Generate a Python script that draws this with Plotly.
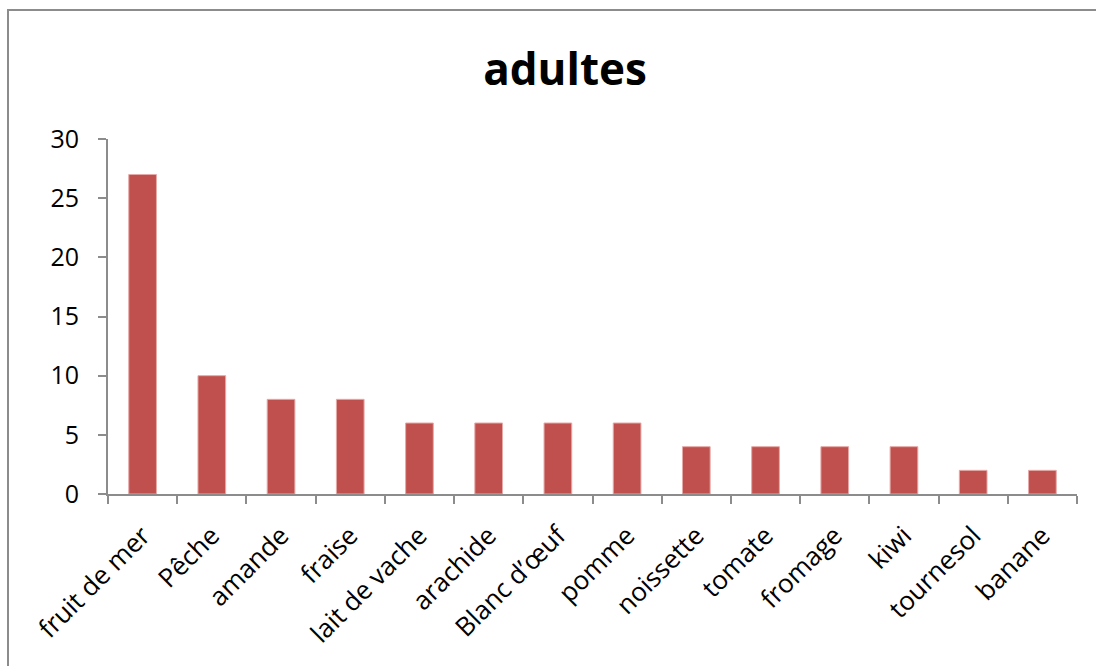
import plotly.graph_objects as go

# Allergen categories and number of adult cases
categories = ["fruit de mer", "Pêche", "amande", "fraise", "lait de vache", "arachide",
              "Blanc d’œuf", "pomme", "noissette", "tomate", "fromage", "kiwi",
              "tournesol", "banane"]
values = [27, 10, 8, 8, 6, 6, 6, 6, 4, 4, 4, 4, 2, 2]
y_ticks = [0, 5, 10, 15, 20, 25, 30]

W, H = 1096, 666
L, R, T, B = 108, 19, 139, 172
pw, ph = W - L - R, H - T - B

fig = go.Figure(go.Bar(
    x=categories, y=values,
    marker=dict(color="#C0504D", line=dict(color="#E6A9A7", width=1)),
    width=0.4,
))

axis_font = dict(family="Open Sans, sans-serif", size=25, color="black")

fig.update_layout(
    width=W, height=H,
    margin=dict(l=L, r=R, t=T, b=B, pad=0),
    paper_bgcolor="white", plot_bgcolor="white",
    showlegend=False,
    title=dict(text="<b>adultes</b>", x=(565) / W, xanchor="center",
               y=1 - 70 / H, yanchor="middle",
               font=dict(family="Open Sans, sans-serif", size=44, color="black")),
    xaxis=dict(
        showline=True, linecolor="#8c8c8c", linewidth=2,
        ticks="outside", ticklen=8, tickcolor="#8c8c8c", tickwidth=2,
        tickson="boundaries", tickangle=-45, tickfont=dict(axis_font, size=26),
        ticklabelstandoff=14, showgrid=False,
    ),
    yaxis=dict(
        range=[0, 30], tickvals=y_ticks,
        showline=True, linecolor="#8c8c8c", linewidth=2,
        ticks="outside", ticklen=8, tickcolor="#8c8c8c", tickwidth=2,
        tickfont=axis_font, ticklabelstandoff=14,
        showgrid=False, zeroline=False,
    ),
)

# Chart frame (left and top edges visible; it continues past the window)
fig.add_shape(
    type="rect", xref="paper", yref="paper",
    x0=(8 - L) / pw, x1=(W + 20 - L) / pw,
    y0=-(H + 20 - (T + ph)) / ph, y1=(T + ph - 10) / ph,
    line=dict(color="#8c8c8c", width=2), fillcolor="rgba(0,0,0,0)",
    layer="below",
)

fig.write_html("out.html")
